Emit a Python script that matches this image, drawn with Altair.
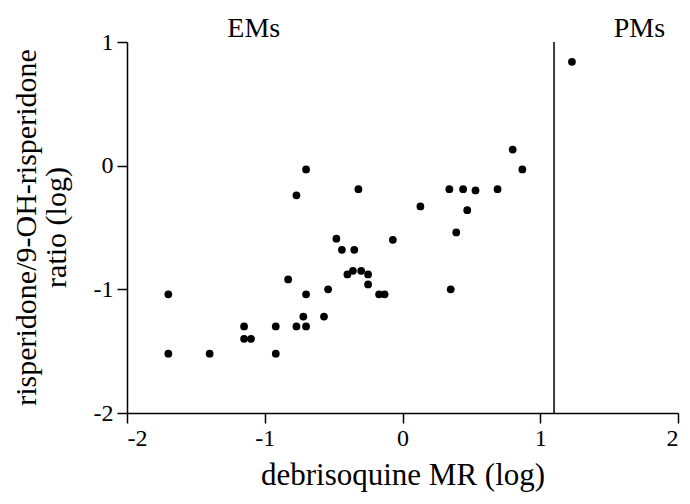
import altair as alt
import pandas as pd

# debrisoquine MR (log) and risperidone/9-OH-risperidone ratio (log)
x_vals = [-1.70, -1.70, -1.40, -1.15, -1.15, -1.10, -0.92, -0.92, -0.83, -0.77,
          -0.70, -0.70, -0.77, -0.70, -0.72, -0.57, -0.54, -0.48, -0.44, -0.35,
          -0.32, -0.40, -0.36, -0.30, -0.25, -0.25, -0.17, -0.13, -0.07, 0.13,
          0.34, 0.44, 0.53, 0.69, 0.47, 0.39, 0.35, 0.80, 0.87, 1.23]
y_vals = [-1.04, -1.52, -1.52, -1.30, -1.40, -1.40, -1.30, -1.52, -0.92, -0.24,
          -0.03, -1.04, -1.30, -1.30, -1.22, -1.22, -1.00, -0.59, -0.68, -0.68,
          -0.19, -0.88, -0.85, -0.85, -0.88, -0.96, -1.04, -1.04, -0.60, -0.33,
          -0.19, -0.19, -0.20, -0.19, -0.36, -0.54, -1.00, 0.13, -0.03, 0.84]

cutoff = [1.1]
group_labels = ["EMs", "PMs"]
group_label_x = [-1.08, 1.72]

x_ticks = [-2, -1, 0, 1, 2]
y_ticks = [-2, -1, 0, 1]

FONT = "Liberation Serif"

pts = pd.DataFrame({"x": x_vals, "y": y_vals})
cut = pd.DataFrame({"x": cutoff})
lab = pd.DataFrame({"label": group_labels, "x": group_label_x})

label_expr = "replace(datum.label, '\u2212', '-')"

xscale = alt.Scale(domain=[-2, 2], nice=False, zero=False)
yscale = alt.Scale(domain=[-2, 1], nice=False, zero=False)

points = alt.Chart(pts).mark_circle(size=60, color="black", opacity=1).encode(
    x=alt.X("x:Q", scale=xscale,
            axis=alt.Axis(values=x_ticks, format="d", title="debrisoquine MR (log)",
                          labelExpr=label_expr, titleY=71, titleFontSize=31,
                          titleBaseline="alphabetic")),
    y=alt.Y("y:Q", scale=yscale,
            axis=alt.Axis(values=y_ticks, format="d",
                          title=["risperidone/9-OH-risperidone", "ratio (log)"],
                          labelExpr=label_expr, titleX=-92, titleY=185,
                          titleFontSize=30,
                          titleBaseline="alphabetic", titleLineHeight=30)),
)

rule = alt.Chart(cut).mark_rule(color="black", strokeWidth=1.5).encode(
    x=alt.X("x:Q", scale=xscale)
)

texts = alt.Chart(lab).mark_text(
    font=FONT, fontSize=28, color="black", align="center", baseline="alphabetic"
).encode(
    x=alt.X("x:Q", scale=xscale),
    y=alt.value(-5),
    text="label:N",
)

chart = alt.layer(rule, points, texts).properties(
    width=551, height=371,
    autosize=alt.AutoSizeParams(type="none"),
    padding={"left": 119, "top": 34, "right": 4, "bottom": 79},
).configure_view(stroke=None).configure_axis(
    grid=False,
    domainColor="black", domainWidth=1.5,
    tickColor="black", tickWidth=1.5, tickSize=10,
    labelFont=FONT, labelFontSize=24, labelColor="black",
    titleFont=FONT, titleColor="black", titleFontWeight="normal",
).configure_axisX(labelPadding=3).configure_axisY(labelPadding=4)

chart.save("out.html", embed_options={"renderer": "svg", "actions": False})
